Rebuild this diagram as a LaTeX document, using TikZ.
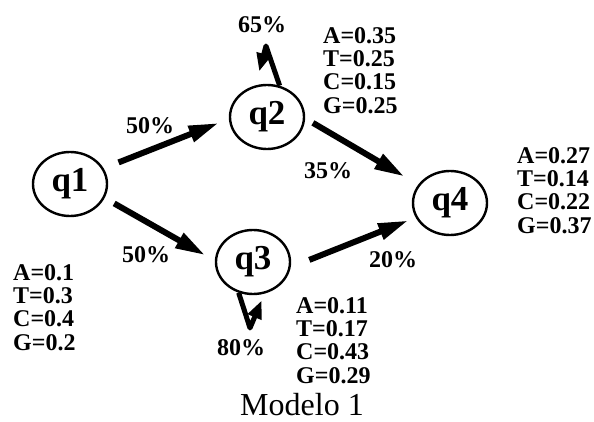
\documentclass[tikz,border=0pt]{standalone}
\usepackage{fontspec}
\setmainfont{Liberation Serif}
\usetikzlibrary{shapes.geometric,arrows.meta}

\begin{document}
\begin{tikzpicture}[
    x=1pt, y=-1pt,
    state/.style={draw, ellipse, line width=2.4pt, minimum width=74pt, minimum height=64pt, inner sep=0pt, font=\fontsize{35}{35}\selectfont\bfseries},
    emis/.style={anchor=north west, inner sep=0pt, align=left, font=\fontsize{24}{23.4}\selectfont\bfseries},
    prob/.style={inner sep=0pt, font=\fontsize{24}{24}\selectfont\bfseries},
    arr/.style={-{Triangle[length=30pt,width=16pt]}, line width=6pt},
    selfarr/.style={-{Triangle[length=18pt,width=14pt]}, line width=5pt, line join=round},
]
\useasboundingbox (0,0) rectangle (594,422);
% States
\node[state] (q1) at (70,184) {q1};
\node[state] (q2) at (267,117) {q2};
\node[state] (q3) at (253,262) {q3};
\node[state] (q4) at (450,203) {q4};
% Emission probabilities
\node[emis] (e1) at (13,264) {A=0.1\\T=0.3\\C=0.4\\G=0.2};
\node[emis] (e2) at (323,27) {A=0.35\\T=0.25\\C=0.15\\G=0.25};
\node[emis] (e3) at (296,297) {A=0.11\\T=0.17\\C=0.43\\G=0.29};
\node[emis] (e4) at (517,147) {A=0.27\\T=0.14\\C=0.22\\G=0.37};
% Transitions
\draw[arr, shorten <=16pt, shorten >=11pt] (q1.25) -- (q2.183);
\draw[arr, shorten <=11pt, shorten >=11pt] (q1.338) -- (q3.178);
\draw[arr, shorten <=9pt, shorten >=16pt] (q2.358) -- (q4.150);
\draw[arr, shorten <=20pt, shorten >=8pt] (q3.352) -- (q4.203);
% Self transitions
\coordinate (a2) at (266,46);
\coordinate (a3) at (250,328);
\draw[selfarr, shorten >=14.5pt] (q2.68) -- (a2) -- (q2.110);
\draw[selfarr, shorten >=7.5pt] (q3.245) -- (a3) -- (q3.290);
% Transition labels
\node[prob] (p12) at (150,126) {50\%};
\node[prob] (p13) at (146,255) {50\%};
\node[prob] (p24) at (328,171) {35\%};
\node[prob] (p34) at (393,260) {20\%};
\node[prob] (p22) at (262,25) {65\%};
\node[prob] (p33) at (241,348) {80\%};
% Caption
\node[anchor=base, inner sep=0pt, font=\fontsize{32}{32}\selectfont] (cap) at (302,415) {Modelo 1};
\end{tikzpicture}
\end{document}
